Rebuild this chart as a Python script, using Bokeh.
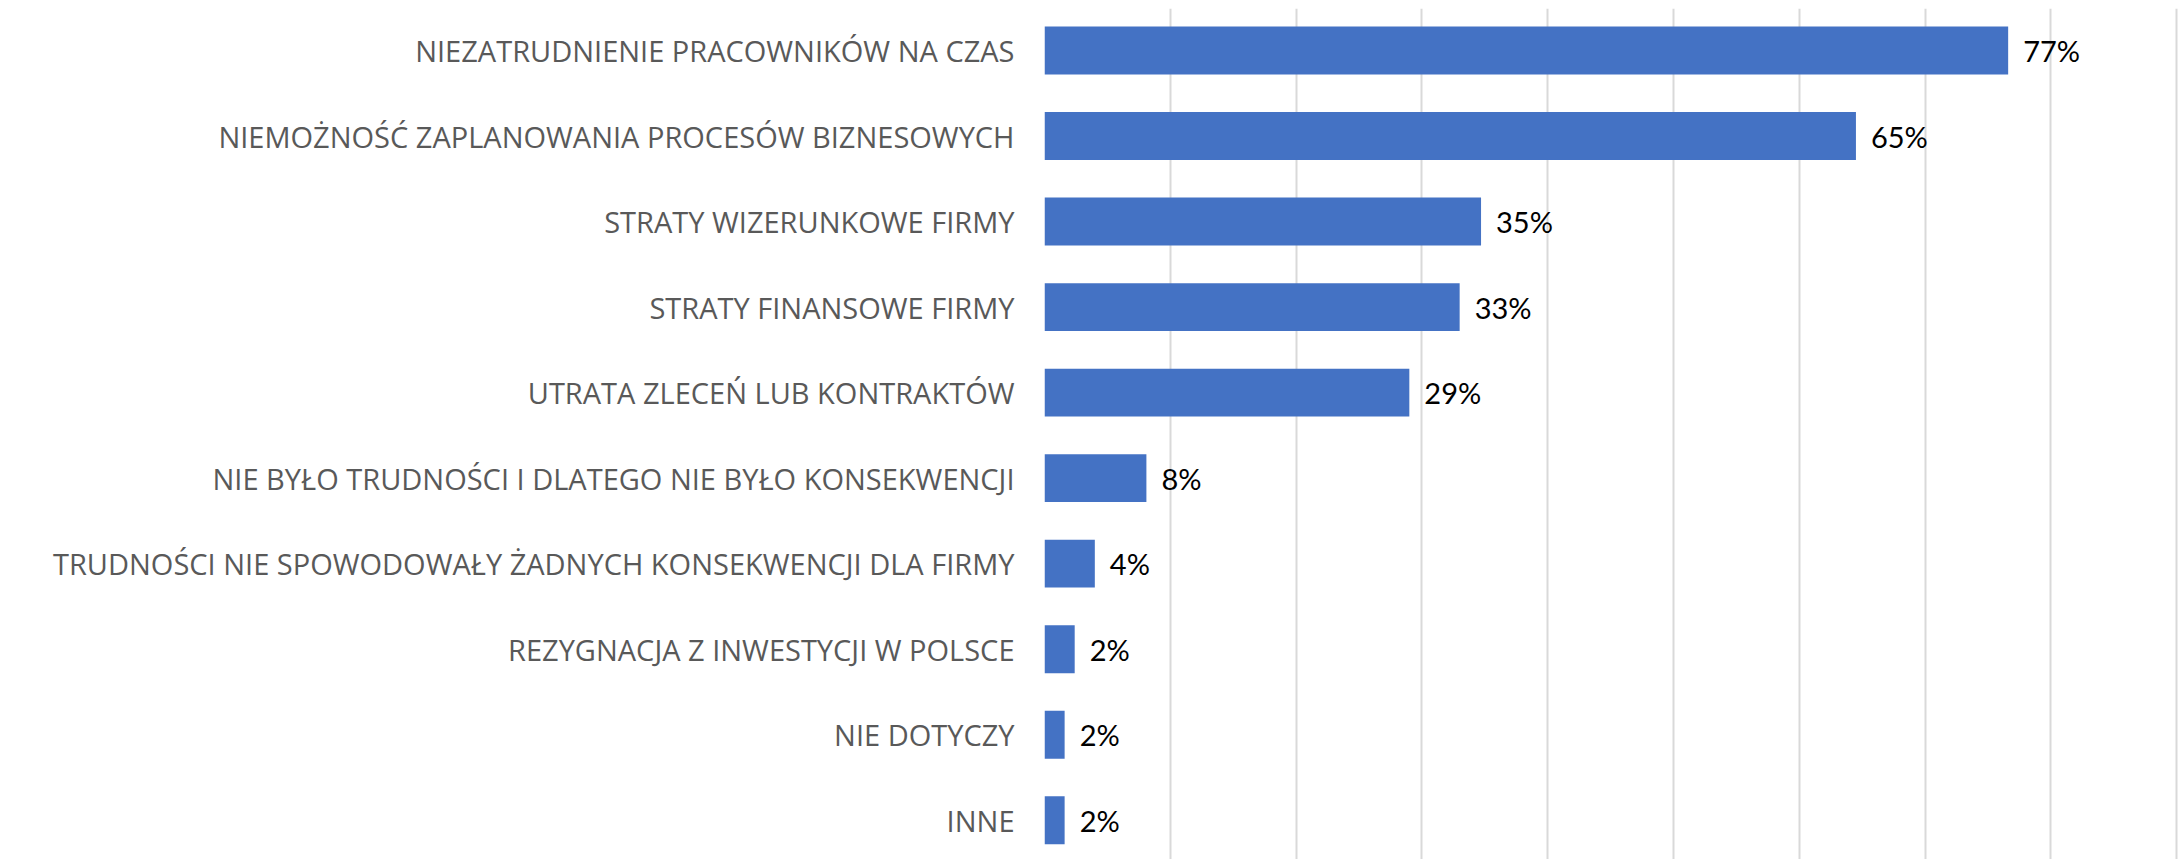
from bokeh.plotting import figure
from bokeh.models import ColumnDataSource, Range1d, FixedTicker
from bokeh.core.properties import value
from bokeh.embed import file_html
from bokeh.resources import INLINE

categories = [
    "NIEZATRUDNIENIE PRACOWNIKÓW NA CZAS",
    "NIEMOŻNOŚĆ ZAPLANOWANIA PROCESÓW BIZNESOWYCH",
    "STRATY WIZERUNKOWE FIRMY",
    "STRATY FINANSOWE FIRMY",
    "UTRATA ZLECEŃ LUB KONTRAKTÓW",
    "NIE BYŁO TRUDNOŚCI I DLATEGO NIE BYŁO KONSEKWENCJI",
    "TRUDNOŚCI NIE SPOWODOWAŁY ŻADNYCH KONSEKWENCJI DLA FIRMY",
    "REZYGNACJA Z INWESTYCJI W POLSCE",
    "NIE DOTYCZY",
    "INNE",
]
values = [0.766, 0.645, 0.347, 0.330, 0.290, 0.081, 0.040, 0.024, 0.016, 0.016]
value_labels = ["77%", "65%", "35%", "33%", "29%", "8%", "4%", "2%", "2%", "2%"]
grid_ticks = [0.0, 0.1, 0.2, 0.3, 0.4, 0.5, 0.6, 0.7, 0.8, 0.9]

positions = list(range(len(categories)))
src = ColumnDataSource(dict(y=positions, v=values, lbl=value_labels))

p = figure(
    width=2178, height=859,
    output_backend="svg", toolbar_location=None,
    x_range=Range1d(0, 0.9014), y_range=Range1d(9.459, -0.491),
    min_border_left=1044, min_border_right=0, min_border_top=8, min_border_bottom=0,
)
p.hbar(y="y", left=0, right="v", height=0.56, source=src,
       fill_color="#4472C4", line_color=None)
p.text(x="v", y="y", text="lbl", source=src, x_offset=15,
       text_baseline="middle", text_align="left",
       text_font=value("Lato"), text_font_size="29px", text_color="#000000")

p.xaxis.visible = False
p.xgrid.ticker = FixedTicker(ticks=grid_ticks)
p.xgrid.grid_line_color = "#D9D9D9"
p.xgrid.grid_line_width = 2
p.ygrid.visible = False

p.yaxis.ticker = FixedTicker(ticks=positions)
p.yaxis.major_label_overrides = {i: c for i, c in enumerate(categories)}
p.yaxis.axis_line_color = None
p.yaxis.major_tick_line_color = None
p.yaxis.minor_tick_line_color = None
p.yaxis.major_tick_out = 0
p.yaxis.major_tick_in = 0
p.yaxis.major_label_text_font = "Open Sans"
p.yaxis.major_label_text_font_size = "29px"
p.yaxis.major_label_text_color = "#595959"
p.yaxis.major_label_standoff = 30

p.outline_line_color = None
p.background_fill_color = "white"
p.border_fill_color = "white"

open("out.html", "w").write(file_html(p, INLINE))
